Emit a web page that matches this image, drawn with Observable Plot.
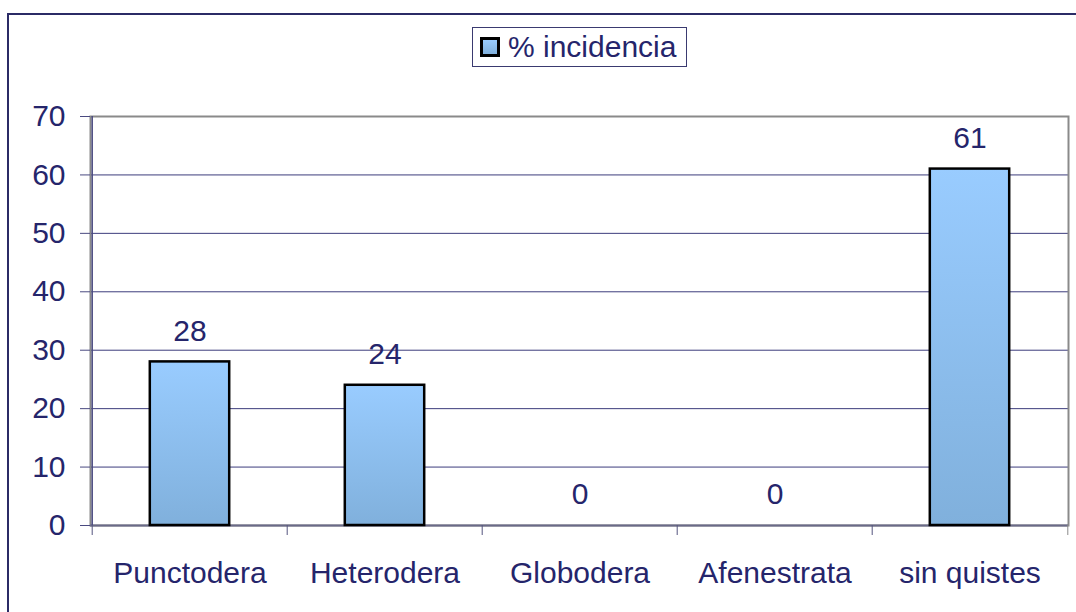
<!DOCTYPE html>
<html>
<head>
<meta charset="utf-8">
<script src="https://cdn.jsdelivr.net/npm/d3@7"></script>
<script src="https://cdn.jsdelivr.net/npm/@observablehq/plot@0.6"></script>
<style>
  html, body { margin: 0; padding: 0; background: #fff; }
  body { width: 1076px; height: 612px; position: relative; overflow: hidden;
         font-family: "Liberation Sans", Arial, sans-serif; }
  #outer { position: absolute; left: 7px; top: 13px; width: 1120px; height: 700px;
           border: 2px solid #2b2b66; box-sizing: border-box; pointer-events: none; }
  #chart { position: absolute; left: 0; top: 0; }
  #legend { position: absolute; left: 472px; top: 27px; width: 215px; height: 40px;
            border: 1.5px solid #3a3a70; box-sizing: border-box; background: #fff;
            display: flex; align-items: center; padding-left: 7px; }
  #legend .sw { width: 20px; height: 20px; box-sizing: border-box; border: 3px solid #000;
                background: linear-gradient(#99ccff, #80b0dc); margin-right: 8px; }
  #legend .lb { font-size: 30px; color: #25256b; line-height: 1; white-space: nowrap; }
</style>
</head>
<body>
<div id="chart"></div>
<div id="legend"></div>
<div id="outer"></div>
<script>
const categories = ["Punctodera", "Heterodera", "Globodera", "Afenestrata", "sin quistes"];
const values = [28, 24, 0, 0, 61];
const yTicks = [0, 10, 20, 30, 40, 50, 60, 70];
const seriesName = "% incidencia";

const data = categories.map((c, i) => ({category: c, value: values[i]}));

const W = 1076, H = 612;
const mL = 90, mR = 8, mT = 116, mB = 87;
const band = (W - mL - mR) / categories.length;
const barW = 80;
const inset = (band - barW) / 2;
const navy = "#25256b";
const fs = 30;

const chart = Plot.plot({
  width: W,
  height: H,
  marginLeft: mL,
  marginRight: mR,
  marginTop: mT,
  marginBottom: mB,
  style: {background: "transparent", fontFamily: "'Liberation Sans', Arial, sans-serif", fontSize: fs + "px", color: navy},
  x: {domain: categories, padding: 0, label: null},
  y: {domain: [0, 70], label: null},
  marks: [
    Plot.ruleY(yTicks.slice(1, -1), {stroke: "#3c3c7c", strokeWidth: 1}),
    Plot.frame({stroke: "#8a8a8a", strokeWidth: 2}),
    Plot.ruleY([0], {stroke: "#6a6a88", strokeWidth: 2}),
    Plot.ruleX([categories[0]], {dx: -band / 2, stroke: "#4a4a80", strokeWidth: 1.5}),
    Plot.barY(data.filter(d => d.value > 0), {
      x: "category", y: "value",
      fill: "url(#barGrad)", stroke: "#000", strokeWidth: 2.5,
      insetLeft: inset, insetRight: inset
    }),
    Plot.text(data, {x: "category", y: "value", text: d => String(d.value), dy: -31, fill: navy, fontSize: fs}),
    Plot.axisY({ticks: yTicks, tickSize: 10, tickPadding: 15, fontSize: fs, label: null, stroke: "#4a4a80", fill: navy}),
    Plot.axisX({tickSize: 0, tickPadding: 36, fontSize: fs, label: null, fill: navy}),
    Plot.axisX({tickSize: 10, tickFormat: () => "", dx: -band / 2, label: null, stroke: "#55557f"}),
    Plot.axisX({ticks: [categories[categories.length - 1]], tickSize: 10, tickFormat: () => "", dx: band / 2, label: null, stroke: "#8a8a8a"})
  ]
});

// gradient definition for bars
const ns = "http://www.w3.org/2000/svg";
const defs = document.createElementNS(ns, "defs");
const grad = document.createElementNS(ns, "linearGradient");
grad.setAttribute("id", "barGrad");
grad.setAttribute("x1", "0"); grad.setAttribute("y1", "0");
grad.setAttribute("x2", "0"); grad.setAttribute("y2", "1");
[["0", "#99ccff"], ["1", "#80b0dc"]].forEach(([o, c]) => {
  const s = document.createElementNS(ns, "stop");
  s.setAttribute("offset", o);
  s.setAttribute("stop-color", c);
  grad.appendChild(s);
});
defs.appendChild(grad);
chart.insertBefore(defs, chart.firstChild);

document.getElementById("chart").appendChild(chart);

const legend = document.getElementById("legend");
const sw = document.createElement("div");
sw.className = "sw";
const lb = document.createElement("div");
lb.className = "lb";
lb.textContent = seriesName;
legend.appendChild(sw);
legend.appendChild(lb);
</script>
</body>
</html>
